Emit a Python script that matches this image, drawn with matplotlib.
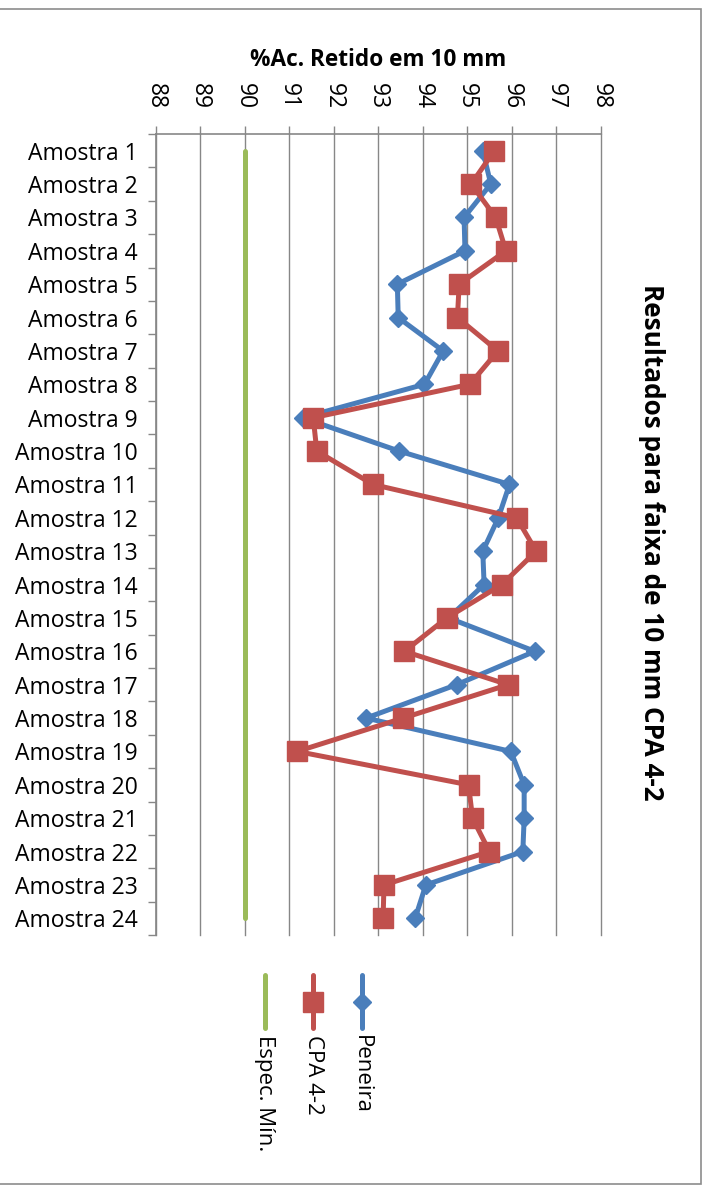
import matplotlib.pyplot as plt
from matplotlib.lines import Line2D
from matplotlib.patches import Rectangle
import numpy as np

# data
amostras = ['Amostra %d' % i for i in range(1, 25)]
peneira = [95.35, 95.53, 94.93, 94.95, 93.43, 93.45, 94.46, 94.04, 91.30, 93.47,
           95.95, 95.70, 95.35, 95.38, 94.58, 96.52, 94.76, 92.73, 95.98, 96.28,
           96.28, 96.25, 94.07, 93.83]
cpa42 = [95.61, 95.09, 95.64, 95.87, 94.82, 94.78, 95.69, 95.06, 91.54, 91.62,
         92.88, 96.11, 96.55, 95.78, 94.54, 93.59, 95.92, 93.56, 91.18, 95.03,
         95.12, 95.50, 93.13, 93.11]
espec_min = [90] * 24
x_ticks = list(range(88, 99))

W, H = 709, 1185
BLUE = '#4a7ebb'
RED = '#c0504d'
GREEN = '#9bbb59'
GRAY = '#878787'

plt.rcParams['font.family'] = ['Open Sans', 'DejaVu Sans']

def fx(x):
    return x / W

def fy(y):
    return 1 - y / H

fig = plt.figure(figsize=(W / 100, H / 100), dpi=100)
fig.add_artist(Rectangle((-0.01, fy(1183.5)), fx(700.5) + 0.01, fy(9) - fy(1183.5),
                         transform=fig.transFigure, fill=False, ec='#8c8c8c', lw=1.2))

ax = fig.add_axes([fx(155.7), fy(935), fx(600.7) - fx(155.7), fy(134) - fy(935)])
pos = np.arange(len(amostras))

ax.plot(peneira, pos, color=BLUE, lw=3.6, marker='D', ms=9.5, zorder=3)
ax.plot(cpa42, pos, color=RED, lw=3.6, marker='s', ms=14, zorder=4)
ax.plot(espec_min, pos, color=GREEN, lw=3.6, solid_capstyle='round', zorder=5)

ax.set_xlim(88, 98)
ax.set_ylim(len(amostras) - 0.5, -0.5)
ax.set_xticks(x_ticks)
ax.xaxis.tick_top()
ax.tick_params(axis='x', direction='out', length=6, width=1, color=GRAY,
               labelsize=16.5, labelrotation=-90, pad=12)
ax.set_yticks(pos)
ax.set_yticklabels(amostras)
ax.set_yticks(np.arange(-0.5, len(amostras)), minor=True)
ax.tick_params(axis='y', which='major', length=0, labelsize=16.5, pad=13)
ax.tick_params(axis='y', which='minor', length=6, width=1, color=GRAY)
ax.grid(axis='x', color=GRAY, lw=1)
for gl in ax.get_xgridlines():
    gl.set_clip_on(False)
ax.set_axisbelow(True)
for s in ['right', 'bottom']:
    ax.spines[s].set_visible(False)
for s in ['top', 'left']:
    ax.spines[s].set_color(GRAY)
    ax.spines[s].set_linewidth(1.2)

fig.text(fx(378), fy(60), '%Ac. Retido em 10 mm', ha='center', va='center',
         fontsize=16.3, fontweight='bold')
fig.text(fx(652), fy(542), 'Resultados para faixa de 10 mm CPA 4-2', ha='center',
         va='center', rotation=-90, fontsize=18.8, fontweight='bold')

# legend, turned like the rest of the chart
legend = [('Peneira', BLUE, 'D', 9.5, 361.7),
          ('CPA 4-2', RED, 's', 14, 313),
          ('Espec. Mín.', GREEN, None, 0, 265)]
for name, col, mk, ms, x in legend:
    fig.add_artist(Line2D([fx(x), fx(x)], [fy(975), fy(1028)], transform=fig.transFigure,
                          color=col, lw=3.6, solid_capstyle='round'))
    if mk:
        fig.add_artist(Line2D([fx(x)], [fy(1002)], transform=fig.transFigure,
                              color=col, marker=mk, ms=ms, lw=0))
    fig.text(fx(x), fy(1035), name, ha='center', va='top', rotation=-90, fontsize=16)

fig.savefig('out.png', dpi=100)
